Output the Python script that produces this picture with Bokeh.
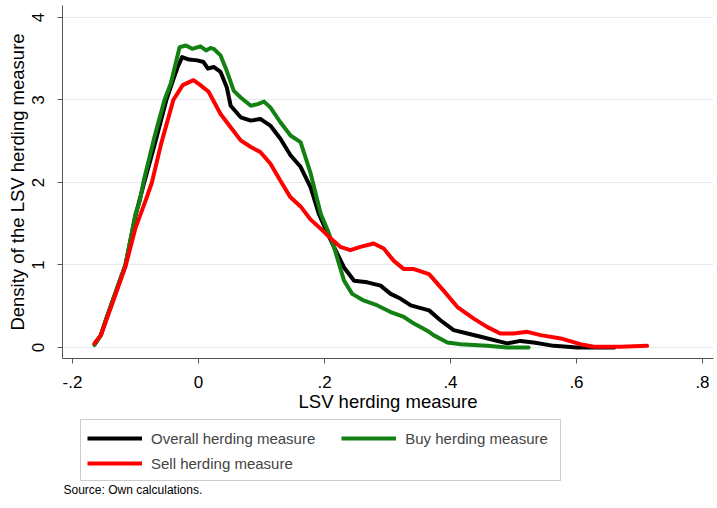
from bokeh.plotting import figure
from bokeh.layouts import column
from bokeh.models import Range1d, FixedTicker, Legend, LegendItem, Label, BoxAnnotation
from bokeh.embed import file_html
from bokeh.resources import INLINE

# ---- data ----
overall_x = [-0.165, -0.155, -0.145, -0.13, -0.116, -0.10, -0.087, -0.07, -0.051, -0.04, -0.033,
             -0.026, -0.015, -0.002, 0.008, 0.015, 0.024, 0.035, 0.045, 0.051, 0.067, 0.083, 0.098,
             0.114, 0.130, 0.146, 0.162, 0.178, 0.191, 0.205, 0.215, 0.231, 0.247, 0.268, 0.289,
             0.305, 0.321, 0.337, 0.347, 0.366, 0.384, 0.405, 0.427, 0.448, 0.474, 0.490, 0.511,
             0.532, 0.564, 0.601, 0.63, 0.66]
overall_y = [0.04, 0.15, 0.38, 0.70, 1.00, 1.60, 1.98, 2.45, 3.00, 3.25, 3.40,
             3.52, 3.49, 3.48, 3.46, 3.38, 3.40, 3.34, 3.15, 2.93, 2.79, 2.75, 2.77,
             2.69, 2.53, 2.33, 2.19, 1.94, 1.62, 1.38, 1.22, 0.97, 0.81, 0.79, 0.75,
             0.65, 0.59, 0.51, 0.49, 0.45, 0.33, 0.21, 0.17, 0.13, 0.08, 0.05, 0.08,
             0.06, 0.02, 0.00, 0.00, 0.00]

buy_x = [-0.165, -0.155, -0.145, -0.13, -0.116, -0.10, -0.093, -0.087, -0.07, -0.054, -0.044,
         -0.030, -0.02, -0.01, 0.003, 0.012, 0.019, 0.024, 0.035, 0.045, 0.056, 0.067, 0.083,
         0.094, 0.104, 0.114, 0.130, 0.146, 0.162, 0.178, 0.194, 0.205, 0.215, 0.231, 0.244,
         0.262, 0.284, 0.305, 0.326, 0.342, 0.366, 0.373, 0.395, 0.416, 0.458, 0.490, 0.524]
buy_y = [0.03, 0.15, 0.38, 0.70, 1.00, 1.62, 1.78, 2.02, 2.55, 3.00, 3.20,
         3.64, 3.66, 3.62, 3.65, 3.60, 3.63, 3.62, 3.54, 3.35, 3.11, 3.03, 2.93,
         2.95, 2.98, 2.91, 2.73, 2.57, 2.49, 2.11, 1.62, 1.42, 1.22, 0.81, 0.65,
         0.57, 0.51, 0.43, 0.37, 0.29, 0.19, 0.15, 0.06, 0.04, 0.02, 0.00, 0.00]

sell_x = [-0.165, -0.155, -0.145, -0.13, -0.116, -0.10, -0.084, -0.074, -0.06, -0.04, -0.025,
          -0.008, 0.003, 0.016, 0.035, 0.051, 0.067, 0.083, 0.098, 0.114, 0.130, 0.146, 0.162,
          0.178, 0.194, 0.210, 0.225, 0.241, 0.257, 0.278, 0.294, 0.310, 0.326, 0.342, 0.366,
          0.389, 0.411, 0.437, 0.458, 0.479, 0.500, 0.522, 0.543, 0.575, 0.606, 0.628, 0.670, 0.712]
sell_y = [0.05, 0.15, 0.36, 0.68, 0.98, 1.45, 1.78, 2.00, 2.45, 3.00, 3.18,
          3.24, 3.18, 3.10, 2.83, 2.67, 2.51, 2.43, 2.37, 2.23, 2.02, 1.82, 1.71,
          1.55, 1.44, 1.32, 1.22, 1.18, 1.22, 1.26, 1.20, 1.05, 0.95, 0.95, 0.89,
          0.69, 0.49, 0.35, 0.25, 0.17, 0.17, 0.19, 0.15, 0.11, 0.04, 0.01, 0.01, 0.02]

series_names = ["Overall herding measure", "Buy herding measure", "Sell herding measure"]
series_colors = ["#000000", "#138013", "#ff0000"]

x_ticks = [-0.2, 0, 0.2, 0.4, 0.6, 0.8]
x_tick_labels = ["-.2", "0", ".2", ".4", ".6", ".8"]
y_ticks = [0, 1, 2, 3, 4]
y_tick_labels = ["0", "1", "2", "3", "4"]

x_title = "LSV herding measure"
y_title = "Density of the LSV herding measure"
source_note = "Source: Own calculations."

FONT = "Liberation Sans"
W = 715
H1 = 416
H2 = 90
BL, BR = 62, 2

# ---------------- main chart ----------------
p = figure(width=W, height=H1, output_backend="svg", toolbar_location=None,
           x_range=Range1d(-0.2159, 0.8175), y_range=Range1d(-0.1333, 4.145),
           min_border_left=BL, min_border_right=BR, min_border_top=5, min_border_bottom=58)
p.title.visible = False
p.outline_line_color = None
p.background_fill_color = "white"
p.border_fill_color = "white"

all_x = [overall_x, buy_x, sell_x]
all_y = [overall_y, buy_y, sell_y]
for xs, ys, c in zip(all_x, all_y, series_colors):
    p.line(xs, ys, line_color=c, line_width=4, line_join="round", line_cap="round")

for ax in (p.xaxis[0], p.yaxis[0]):
    ax.axis_line_color = "#555555"
    ax.major_tick_line_color = "#555555"
    ax.minor_tick_line_color = None
    ax.major_tick_out = 5
    ax.major_tick_in = 0
    ax.major_label_text_font = FONT
    ax.major_label_text_font_size = "17px"
    ax.major_label_text_color = "#000000"
    ax.axis_label_text_font = FONT
    ax.axis_label_text_font_size = "18.5px"
    ax.axis_label_text_font_style = "normal"
    ax.axis_label_text_color = "#000000"

p.xaxis.ticker = FixedTicker(ticks=x_ticks)
p.xaxis.major_label_overrides = dict(zip(x_ticks, x_tick_labels))
p.xaxis.axis_label = x_title
p.xaxis.major_label_standoff = 12
p.xaxis.axis_label_standoff = 0

p.yaxis.ticker = FixedTicker(ticks=y_ticks)
p.yaxis.major_label_overrides = dict(zip(y_ticks, y_tick_labels))
p.yaxis.major_label_orientation = "vertical"
p.yaxis.axis_label = y_title
p.yaxis.major_label_standoff = 13
p.yaxis.axis_label_standoff = 2

p.xgrid.grid_line_color = None
p.ygrid.ticker = FixedTicker(ticks=y_ticks)
p.ygrid.grid_line_color = "#e3ebee"
p.ygrid.grid_line_width = 1

# ---------------- legend + source note ----------------
# same series drawn again in a strip whose ranges show none of them: only their legend keys appear
q = figure(width=W, height=H2, output_backend="svg", toolbar_location=None,
           x_range=Range1d(5, 6), y_range=Range1d(5, 6),
           x_axis_location=None, y_axis_location=None,
           min_border_left=BL, min_border_right=BR, min_border_top=0, min_border_bottom=0)
q.title.visible = False
q.outline_line_color = None
q.xgrid.visible = False
q.ygrid.visible = False
q.background_fill_color = "white"
q.border_fill_color = "white"

keys = [q.line(xs, ys, line_color=c, line_width=4) for xs, ys, c in zip(all_x, all_y, series_colors)]

box = BoxAnnotation(left=18, right=498, bottom=26, top=87,
                    left_units="screen", right_units="screen",
                    bottom_units="screen", top_units="screen",
                    fill_color="white", fill_alpha=1.0,
                    line_color="#555555", line_width=1, level="underlay")
q.add_layout(box)

common = dict(glyph_width=55, glyph_height=20, label_standoff=9, label_height=20,
              padding=0, margin=0, label_text_font=FONT, label_text_font_size="15px",
              border_line_color=None, background_fill_alpha=0.0)
legend_a = Legend(items=[LegendItem(label=series_names[0], renderers=[keys[0]]),
                         LegendItem(label=series_names[1], renderers=[keys[1]])],
                  orientation="horizontal", spacing=26, location=(25, 58), **common)
legend_b = Legend(items=[LegendItem(label=series_names[2], renderers=[keys[2]])],
                  orientation="horizontal", spacing=26, location=(25, 33), **common)
q.add_layout(legend_a, "center")
q.add_layout(legend_b, "center")

src = Label(x=1, y=17, x_units="screen", y_units="screen", text=source_note,
            text_font=FONT, text_font_size="12px", text_baseline="middle", text_color="#000000")
q.add_layout(src)

layout = column(p, q, spacing=0)
open("out.html", "w").write(file_html(layout, INLINE))
